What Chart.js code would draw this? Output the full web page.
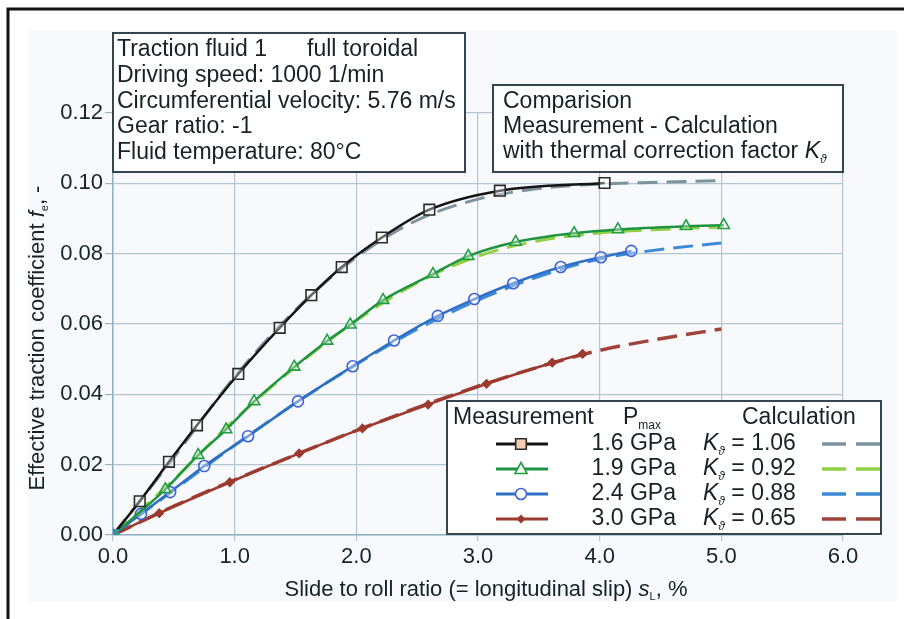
<!DOCTYPE html>
<html><head><meta charset="utf-8">
<script src="https://cdn.jsdelivr.net/npm/chart.js@4.4.0/dist/chart.umd.min.js"></script>
<style>html,body{margin:0;padding:0;background:#fff;}canvas{display:block;}</style>
</head><body>
<canvas id="c" width="904" height="619"></canvas>
<script>
// ---- data ----
const xTickLabels = ['0.0','1.0','2.0','3.0','4.0','5.0','6.0'];
const yTickLabels = ['0.00','0.02','0.04','0.06','0.08','0.10','0.12'];

// Measurement, Pmax = 1.6 GPa
const sl16 = [0, 0.22, 0.46, 0.69, 1.03, 1.37, 1.63, 1.88, 2.21, 2.60, 3.18, 4.04];
const fe16 = [0, 0.0096, 0.0208, 0.0312, 0.0458, 0.0589, 0.0682, 0.0762, 0.0846, 0.0925, 0.0979, 0.1001];
// Measurement, Pmax = 1.9 GPa
const sl19 = [0, 0.43, 0.70, 0.93, 1.16, 1.49, 1.76, 1.95, 2.22, 2.63, 2.92, 3.31, 3.79, 4.15, 4.71, 5.02];
const fe19 = [0, 0.0130, 0.0227, 0.0300, 0.0380, 0.0478, 0.0552, 0.0598, 0.0668, 0.0742, 0.0793, 0.0833, 0.0858, 0.0869, 0.0878, 0.0881];
// Measurement, Pmax = 2.4 GPa
const sl24 = [0, 0.23, 0.47, 0.75, 1.11, 1.52, 1.97, 2.31, 2.67, 2.97, 3.29, 3.68, 4.01, 4.26];
const fe24 = [0, 0.0060, 0.0122, 0.0196, 0.0281, 0.0380, 0.0480, 0.0553, 0.0623, 0.0671, 0.0716, 0.0762, 0.0790, 0.0808];
// Measurement, Pmax = 3.0 GPa
const sl30 = [0, 0.38, 0.96, 1.53, 2.05, 2.59, 3.07, 3.61, 3.86];
const fe30 = [0, 0.0062, 0.0150, 0.0232, 0.0303, 0.0371, 0.0430, 0.0490, 0.0515];

// Calculation with thermal correction factor
const slCalc = [0, 0.5, 1.0, 1.5, 2.0, 2.5, 3.0, 3.5, 4.0, 4.5, 5.0];
const calc106 = [0, 0.0220, 0.0450, 0.0640, 0.0790, 0.0895, 0.0955, 0.0985, 0.0998, 0.1003, 0.1008];
const calc092 = [0, 0.0158, 0.0328, 0.0478, 0.0610, 0.0717, 0.0793, 0.0837, 0.0859, 0.0869, 0.0876];
const calc088 = [0, 0.0128, 0.0255, 0.0375, 0.0485, 0.0585, 0.0668, 0.0735, 0.0785, 0.0812, 0.0830];
const calc065 = [0, 0.0082, 0.0157, 0.0228, 0.0297, 0.0362, 0.0423, 0.0478, 0.0525, 0.0558, 0.0586];

const pressures = ['1.6 GPa','1.9 GPa','2.4 GPa','3.0 GPa'];
const kFactors = ['1.06','0.92','0.88','0.65'];

// ---- styles ----
const FONT = '"Liberation Sans", Arial, Helvetica, sans-serif';
const TXT = '#172126';
const measColors = ['#141414', '#1f9440', '#2f6fc4', '#9c3a2e'];
const markerColors = ['#2a2a2a', '#22a040', '#3f62d8', '#9c3a2e'];
const calcColors = ['#7d939c', '#93cf45', '#3c8ad6', '#a0443a'];
const styles = ['rect', 'triangle', 'circle', 'rectRot'];
const radii = [7.5, 6.5, 5.5, 4];

const pts = (xs, ys) => xs.map((x, i) => ({x: x, y: ys[i]}));
const measSets = [[sl16, fe16], [sl19, fe19], [sl24, fe24], [sl30, fe30]];
const calcSets = [calc106, calc092, calc088, calc065];

const datasets = [];
measSets.forEach((s, k) => {
  datasets.push({
    label: 'Measurement ' + pressures[k],
    data: pts(s[0], s[1]),
    showLine: true,
    order: 1,
    borderColor: measColors[k],
    borderWidth: 2.5,
    cubicInterpolationMode: 'monotone',
    pointStyle: styles[k],
    pointRadius: radii[k],
    pointBorderWidth: 1.6,
    pointBorderColor: ctx => ctx.dataIndex === 0 ? '#3e8e94' : markerColors[k],
    pointBackgroundColor: ctx => ctx.dataIndex === 0 ? '#3e8e94' : (k === 3 ? markerColors[k] : 'rgba(255,255,255,0.35)')
  });
});
calcSets.forEach((c, k) => {
  datasets.push({
    label: 'Calculation K = ' + kFactors[k],
    data: pts(slCalc, c),
    showLine: true,
    order: 2,
    borderColor: calcColors[k],
    borderWidth: k === 3 ? 3.5 : 3,
    borderDash: [20, 9],
    cubicInterpolationMode: 'monotone',
    pointRadius: 0
  });
});

function fontOf(s, size) {
  const sz = s.sub ? Math.round(size * 0.52) : size;
  return (s.i ? 'italic ' : '') + sz + 'px ' + FONT;
}
function rich(ctx, segs, x, y, size, align) {
  let w = 0;
  segs.forEach(s => { ctx.font = fontOf(s, size); s.w = ctx.measureText(s.t).width; w += s.w; });
  let cx = align === 'center' ? x - w / 2 : (align === 'right' ? x - w : x);
  ctx.textAlign = 'left';
  ctx.textBaseline = 'middle';
  ctx.fillStyle = TXT;
  segs.forEach(s => {
    ctx.font = fontOf(s, size);
    ctx.fillText(s.t, cx, y + (s.sub ? size * 0.32 : 0));
    cx += s.w;
  });
  return w;
}
function box(ctx, x0, y0, x1, y1) {
  ctx.fillStyle = '#ffffff';
  ctx.fillRect(x0, y0, x1 - x0, y1 - y0);
  ctx.strokeStyle = '#34464d';
  ctx.lineWidth = 2;
  ctx.strokeRect(x0, y0, x1 - x0, y1 - y0);
}
function marker(ctx, k, x, y) {
  ctx.save();
  ctx.strokeStyle = markerColors[k];
  ctx.lineWidth = 1.6;
  ctx.beginPath();
  if (k === 0) { ctx.rect(x - 5.3, y - 5.3, 10.6, 10.6); ctx.fillStyle = '#f5cdb6'; ctx.fill(); ctx.stroke(); }
  else if (k === 1) { ctx.moveTo(x, y - 6.5); ctx.lineTo(x + 6, y + 4.5); ctx.lineTo(x - 6, y + 4.5); ctx.closePath(); ctx.fillStyle = '#fff'; ctx.fill(); ctx.stroke(); }
  else if (k === 2) { ctx.arc(x, y, 5.5, 0, Math.PI * 2); ctx.fillStyle = '#fff'; ctx.fill(); ctx.stroke(); }
  else { ctx.moveTo(x, y - 4.5); ctx.lineTo(x + 4.5, y); ctx.lineTo(x, y + 4.5); ctx.lineTo(x - 4.5, y); ctx.closePath(); ctx.fillStyle = markerColors[k]; ctx.fill(); }
  ctx.restore();
}

const decor = {
  id: 'decor',
  beforeDraw(chart) {
    const ctx = chart.ctx;
    ctx.save();
    ctx.fillStyle = '#ffffff';
    ctx.fillRect(0, 0, 904, 619);
    ctx.fillStyle = '#f8f9fc';
    ctx.fillRect(28, 30, 869, 572);
    ctx.strokeStyle = '#111';
    ctx.lineWidth = 3;
    ctx.beginPath();
    ctx.moveTo(8, 619); ctx.lineTo(8, 9); ctx.lineTo(904, 9);
    ctx.stroke();
    ctx.restore();
  },
  afterDraw(chart) {
    const ctx = chart.ctx;
    ctx.save();
    // axis titles
    rich(ctx, [{t: 'Slide to roll ratio (= longitudinal slip) '}, {t: 's', i: true}, {t: 'L', sub: true}, {t: ', %'}], 486, 590, 22, 'center');
    ctx.save();
    ctx.translate(38, 338);
    ctx.rotate(-Math.PI / 2);
    rich(ctx, [{t: 'Effective traction coefficient '}, {t: 'f', i: true}, {t: 'e', sub: true}, {t: ', -'}], 0, 0, 22, 'center');
    ctx.restore();

    // info box
    box(ctx, 113, 33, 465, 172);
    const info = ['Traction fluid 1', 'Driving speed: 1000 1/min', 'Circumferential velocity: 5.76 m/s', 'Gear ratio: -1', 'Fluid temperature: 80°C'];
    const infoY = [50, 76, 102, 127, 153];
    info.forEach((s, i) => rich(ctx, [{t: s}], 117, infoY[i], 23, 'left'));
    rich(ctx, [{t: 'full toroidal'}], 307, 50, 23, 'left');

    // comparison box
    box(ctx, 493, 85, 843, 172);
    rich(ctx, [{t: 'Comparision'}], 503, 102, 23, 'left');
    rich(ctx, [{t: 'Measurement - Calculation'}], 503, 127, 23, 'left');
    rich(ctx, [{t: 'with thermal correction factor '}, {t: 'K', i: true}, {t: 'ϑ', sub: true, i: true}], 503, 152, 23, 'left');

    // legend
    box(ctx, 447, 401, 881, 534);
    rich(ctx, [{t: 'Measurement'}], 453, 418, 23, 'left');
    rich(ctx, [{t: 'P'}, {t: 'max', sub: true}], 623, 418, 23, 'left');
    rich(ctx, [{t: 'Calculation'}], 742, 418, 23, 'left');
    const rowY = [444, 469, 494, 519];
    rowY.forEach((y, k) => {
      ctx.save();
      ctx.strokeStyle = measColors[k];
      ctx.lineWidth = 3;
      ctx.beginPath(); ctx.moveTo(496, y); ctx.lineTo(548, y); ctx.stroke();
      ctx.restore();
      marker(ctx, k, 521, y);
      rich(ctx, [{t: pressures[k]}], 676, y, 23, 'right');
      rich(ctx, [{t: 'K', i: true}, {t: 'ϑ', sub: true, i: true}, {t: ' = ' + kFactors[k]}], 703, y, 23, 'left');
      ctx.save();
      ctx.strokeStyle = calcColors[k];
      ctx.lineWidth = 3.5;
      ctx.setLineDash([24, 10]);
      ctx.beginPath(); ctx.moveTo(822, y); ctx.lineTo(880, y); ctx.stroke();
      ctx.restore();
    });
    ctx.restore();
  }
};

new Chart(document.getElementById('c'), {
  type: 'scatter',
  data: {datasets: datasets},
  options: {
    responsive: false,
    animation: false,
    devicePixelRatio: 1,
    layout: {padding: {left: 0, right: 61, top: 113, bottom: 0}},
    plugins: {legend: {display: false}, tooltip: {enabled: false}},
    scales: {
      x: {
        type: 'linear', min: 0, max: 6,
        afterFit: s => { s.height = 84; },
        ticks: {
          stepSize: 1, padding: 3, color: TXT,
          font: {family: FONT, size: 22},
          callback: v => xTickLabels[Math.round(v)]
        },
        grid: {color: '#b4c5cf', lineWidth: 1.2, tickLength: 6, tickColor: '#b4c5cf'},
        border: {color: '#8fb2c2', width: 1.5}
      },
      y: {
        min: 0, max: 0.12,
        afterFit: s => { s.width = 113; },
        ticks: {
          stepSize: 0.02, padding: 2, color: TXT,
          font: {family: FONT, size: 22},
          callback: v => yTickLabels[Math.round(v / 0.02)]
        },
        grid: {color: '#b4c5cf', lineWidth: 1.2, tickLength: 8, tickColor: '#9fb3bf'},
        border: {color: '#8fb2c2', width: 1.5}
      }
    }
  },
  plugins: [decor]
});
</script>
</body></html>
